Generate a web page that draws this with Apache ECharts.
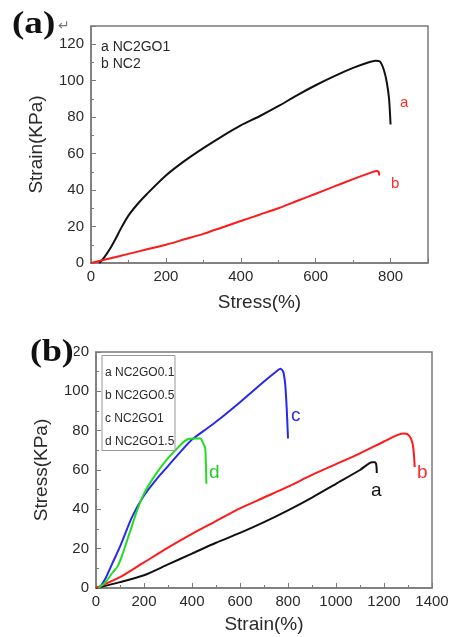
<!DOCTYPE html>
<html>
<head>
<meta charset="utf-8">
<script src="https://cdn.jsdelivr.net/npm/echarts@6/dist/echarts.min.js"></script>
<style>
  html, body { margin: 0; padding: 0; background: #fff; }
  #chart { width: 452px; height: 637px; }
</style>
</head>
<body>
<div id="chart"></div>
<script>
// panel (a): [strain %, stress KPa]
var aNC2GO1 = [[22, 0], [35, 3], [50, 7.5], [65, 13], [80, 19], [100, 26], [125, 32.5], [150, 38], [200, 48], [250, 56], [300, 63], [350, 69.5], [400, 75.5], [450, 80.5], [500, 86], [550, 92], [600, 97.5], [650, 102.5], [700, 107], [740, 110], [760, 111], [772, 110.5], [782, 106], [790, 99], [796, 90], [800, 76]];
var aNC2 = [[0, 0], [50, 2.5], [100, 5], [150, 7.5], [200, 10], [250, 13], [300, 16], [350, 19.5], [400, 23], [450, 26.5], [500, 30], [550, 34], [600, 38], [650, 42], [700, 46], [740, 49], [762, 50.5], [768, 50], [770, 48]];
var aXTicks = [0, 200, 400, 600, 800];
var aYTicks = [0, 20, 40, 60, 80, 100, 120];

// panel (b): [strain %, stress KPa]
var bNC2GO01 = [[0, 0], [100, 3], [200, 6.5], [300, 12], [400, 17.5], [500, 23], [600, 28], [700, 33.5], [800, 39.5], [900, 46], [1000, 53], [1100, 60], [1150, 64], [1162, 64], [1168, 62.5], [1170, 58.5]];
var bNC2GO05 = [[0, 0], [100, 5.5], [200, 13], [300, 20.5], [400, 27.5], [500, 34], [600, 40.5], [700, 46], [800, 51.5], [900, 57.5], [1000, 63], [1100, 68.5], [1200, 74.5], [1260, 78], [1285, 78.5], [1305, 77.5], [1318, 74], [1324, 69], [1328, 61.5]];
var bNC2GO1 = [[15, 0], [40, 5], [70, 13], [100, 21], [150, 36], [200, 47], [250, 55], [300, 62], [350, 69], [400, 75.5], [450, 80], [500, 84.5], [600, 94.5], [700, 105], [750, 110], [768, 111.5], [780, 110], [788, 104], [793, 95], [797, 85], [800, 76]];
var bNC2GO15 = [[10, 0], [40, 3], [70, 8], [90, 11], [110, 17], [140, 28], [170, 39], [200, 48], [250, 58], [300, 66], [350, 72.5], [380, 75.5], [410, 76], [435, 76], [445, 74], [455, 71], [458, 62], [460, 53]];
var bXTicks = [0, 200, 400, 600, 800, 1000, 1200, 1400];
var bYTicks = [0, 20, 40, 60, 80, 100, 120];

var legendA = ['a NC2GO1', 'b NC2'];
var legendB = ['a NC2GO0.1', 'b NC2GO0.5', 'c NC2GO1', 'd NC2GO1.5'];

var FONT = '"Liberation Sans", Arial, sans-serif';
var SERIF = 'bold 32px "Liberation Serif", "DejaVu Serif", serif';
var AXIS_GREY = '#7a7a7a';
var TEXT_GREY = '#2a2a2a';

function makeX(gridIndex, max, name, gap) {
  return {
    type: 'value', gridIndex: gridIndex, min: 0, max: max, interval: 200,
    name: name, nameLocation: 'middle', nameGap: gap,
    nameTextStyle: { fontFamily: FONT, fontSize: 19, color: TEXT_GREY },
    axisLine: { show: true, onZero: false, lineStyle: { color: AXIS_GREY, width: 1.5 } },
    axisTick: { show: true, inside: true, length: 5, lineStyle: { color: AXIS_GREY } },
    minorTick: { show: true, splitNumber: 2, length: 3, lineStyle: { color: AXIS_GREY } },
    axisLabel: {
      fontFamily: FONT, fontSize: 15, color: TEXT_GREY, margin: 6,
      showMaxLabel: max === 1400, formatter: function (v) { return v; }
    },
    splitLine: { show: false }
  };
}

function makeY(gridIndex, max, name) {
  return {
    type: 'value', gridIndex: gridIndex, min: 0, max: max, interval: 20,
    name: name, nameLocation: 'middle', nameGap: 45,
    nameTextStyle: { fontFamily: FONT, fontSize: 19, color: TEXT_GREY },
    axisLine: { show: true, onZero: false, lineStyle: { color: AXIS_GREY, width: 1.5 } },
    axisTick: { show: true, inside: true, length: 5, lineStyle: { color: AXIS_GREY } },
    minorTick: { show: true, splitNumber: 2, length: 3, lineStyle: { color: AXIS_GREY } },
    axisLabel: { fontFamily: FONT, fontSize: 15, color: TEXT_GREY, margin: 7, showMaxLabel: max === 120 },
    splitLine: { show: false }
  };
}

function curve(data, color, xi, yi) {
  return {
    type: 'line', data: data, xAxisIndex: xi, yAxisIndex: yi,
    showSymbol: false, smooth: 0.25, silent: true,
    lineStyle: { color: color, width: 2 }
  };
}

function label(text, x, y, color, size) {
  return {
    type: 'text', left: x, top: y, z: 100,
    style: { text: text, fill: color, font: (size || 16) + 'px ' + FONT }
  };
}

var chart = echarts.init(document.getElementById('chart'), null, { renderer: 'canvas' });

chart.setOption({
  animation: false,
  backgroundColor: '#fff',
  grid: [
    { left: 91, top: 26, width: 337, height: 237, show: true, borderColor: AXIS_GREY, borderWidth: 1.5, backgroundColor: 'transparent' },
    { left: 96, top: 352, width: 336, height: 236, show: true, borderColor: AXIS_GREY, borderWidth: 1.5, backgroundColor: 'transparent' }
  ],
  xAxis: [makeX(0, 900, 'Stress(%)', 30), makeX(1, 1400, 'Strain(%)', 27)],
  yAxis: [makeY(0, 130, 'Strain(KPa)'), makeY(1, 120, 'Stress(KPa)')],
  series: [
    curve(aNC2GO1, '#111', 0, 0),
    curve(aNC2, '#ff1a1a', 0, 0),
    curve(bNC2GO01, '#111', 1, 1),
    curve(bNC2GO05, '#ff1a1a', 1, 1),
    curve(bNC2GO1, '#2828f0', 1, 1),
    curve(bNC2GO15, '#22dd22', 1, 1)
  ],
  graphic: [
    { type: 'text', x: 12, y: 9, scaleX: 1.16, z: 100,
      style: { text: '(a)', fill: '#111', font: SERIF } },
    { type: 'text', left: 58, top: 19, z: 100,
      style: { text: '\u21b5', fill: '#777', font: '14px "DejaVu Sans", sans-serif' } },
    label(legendA[0], 101, 40, TEXT_GREY, 14),
    label(legendA[1], 101, 57, TEXT_GREY, 14),
    label('a', 400, 95, '#ff2a2a', 15),
    label('b', 391, 176, '#ff2a2a', 15),

    { type: 'rect', left: 101.5, top: 355, z: 90,
      shape: { width: 73, height: 95 },
      style: { fill: '#fff', stroke: '#999', lineWidth: 1 } },
    label(legendB[0], 105, 367, TEXT_GREY, 12),
    label(legendB[1], 105, 390, TEXT_GREY, 12),
    label(legendB[2], 105, 413, TEXT_GREY, 12),
    label(legendB[3], 105, 436, TEXT_GREY, 12),
    { type: 'text', x: 30, y: 337, scaleX: 1.12, z: 100,
      style: { text: '(b)', fill: '#111', font: SERIF, backgroundColor: '#fff' } },
    label('c', 291, 406, '#2828f0', 19),
    label('d', 209, 463, '#22cc22', 19),
    label('b', 417, 463, '#ff2a2a', 19),
    label('a', 371, 481, '#111', 19)
  ]
});
</script>
</body>
</html>
